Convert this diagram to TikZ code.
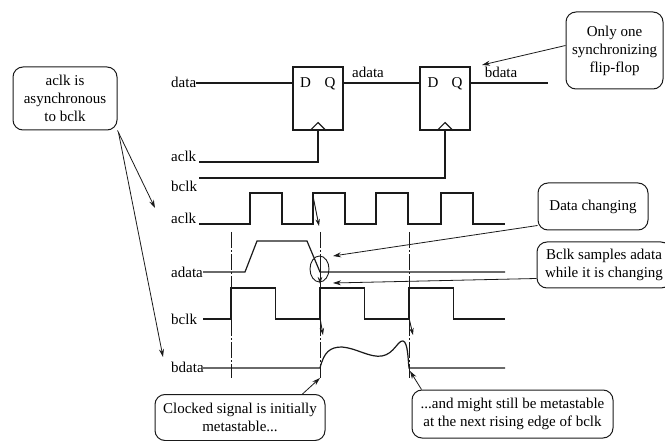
\documentclass[tikz,border=0pt]{standalone}
\usepackage{fontspec}
\setmainfont{Liberation Serif}
\usepackage{tikz}
\usetikzlibrary{arrows.meta}
\definecolor{wire}{HTML}{1A1A1A}

\begin{document}
\begin{tikzpicture}[x=1pt, y=-1pt, font=\fontsize{15}{18}\selectfont]
            \tikzstyle{sig} = [anchor=west, inner sep=0pt, text height=10pt, text depth=0pt];
            \tikzstyle{pin} = [inner sep=0pt, text height=10pt, text depth=0pt];
            \tikzstyle{ff} = [draw=wire, line width=1.2pt, minimum width=50pt, minimum height=63pt, inner sep=0pt];
            \tikzstyle{callout} = [draw=wire, line width=1pt, rounded corners=10pt, align=center, inner sep=0pt];
            \tikzstyle{wave} = [wire, line width=1.2pt];
            \tikzstyle{edge} = [wire, line width=1pt, dash pattern=on 16pt off 2pt on 2pt off 2pt];
            \tikzstyle{note} = [wire, line width=0.8pt, -{Stealth[length=8pt, width=5pt]}];
            \tikzstyle{cause} = [wire, line width=0.9pt, -{Stealth[length=7pt, width=4.5pt]}];
            \useasboundingbox (0,0) rectangle (665,441);
            \foreach \n/\l/\y in {dlbl/data/83, albl/aclk/157, blbl/bclk/187,
                awlbl/aclk/219, adlbl/adata/272, bwlbl/bclk/319, bdlbl/bdata/367}
            {\node[sig] (\n) at (171,\y) {\l};}
            \node[ff] (ff1) at (318,98.5) {};
            \node[ff] (ff2) at (445,98.5) {};
            \node[pin] (d1) at (305.5,83) {D};
            \node[pin] (q1) at (330,83) {Q};
            \node[pin] (d2) at (433,83) {D};
            \node[pin] (q2) at (457,83) {Q};
            \node[pin] (adtxt) at (368,73) {adata};
            \node[pin] (bdtxt) at (501,73) {bdata};
            \coordinate (ain) at (199,162);
            \coordinate (bin) at (199,178);
            \coordinate (bdout) at (548,83);
            \foreach \f in {ff1, ff2}
            {\draw[wave] ([xshift=-8pt]\f.south) -- ([yshift=8pt]\f.south) -- ([xshift=8pt]\f.south);}
            \draw[wave] (dlbl.east) -- (dlbl.east -| ff1.west);
            \draw[wave] (ff1.east |- q1) -- (ff2.west |- d2);
            \draw[wave] (ff2.east |- q2) -- (bdout);
            \draw[wave] (ain) -| (ff1.south);
            \draw[wave] (bin) -| (ff2.south);
            \draw[wave] (199,224) foreach \r in {250,313,376,441} { -- (\r,224) -- (\r,193) -- (\r+32,193) -- (\r+32,224) } -- (505,224);
            \draw[wave] (203,272) -- (245,272) -- (257,241) -- (307,241) -- (320,272) -- (505,272);
            \draw[wave] (203,319) foreach \r in {231,320,409} { -- (\r,319) -- (\r,288) -- (\r+44.5,288) -- (\r+44.5,319) } -- (505,319);
            \draw[wave] (203,368) -- (320,368) .. controls (324,352) and (330,347) .. (342,347)
                .. controls (356,348) and (370,358) .. (382,356) .. controls (394,354) and (398,340) .. (403,341)
                .. controls (408,342) and (408,360) .. (409,368) -- (505,368);
            \foreach \x in {231, 320, 409}
            {\draw[edge] (\x,232) -- (\x,378);}
            \draw[wire, line width=0.9pt] (319.5,269) ellipse [x radius=9.5, y radius=13];
            \draw[cause] (313,196) -- (319,226);
            \draw[cause] (320,270) -- (320,284);
            \draw[cause] (320,318) -- (323,335);
            \draw[cause] (409,318) -- (413,335);
            \node[callout, minimum width=104pt, minimum height=63pt] (casync) at (65,98.5) {aclk is\\asynchronous\\to bclk};
            \node[callout, minimum width=97pt, minimum height=77pt] (conly) at (614.5,50.5) {Only one\\synchronizing\\flip-flop};
            \node[callout, minimum width=110pt, minimum height=47pt] (cchg) at (593,206.5) {Data changing};
            \node[callout, minimum width=134pt, minimum height=46pt] (csamp) at (604,265) {Bclk samples adata\\while it is changing};
            \node[callout, minimum width=170pt, minimum height=46pt] (cinit) at (240,417.5) {Clocked signal is initially\\metastable...};
            \node[callout, minimum width=201pt, minimum height=48pt] (cnext) at (512.5,414) {...and might still be metastable\\at the next rising edge of bclk};
            \coordinate (tipaclk) at (155,208);
            \coordinate (tipbdata) at (163,357);
            \coordinate (tiponly) at (482,65);
            \coordinate (tipchg) at (333,256);
            \coordinate (tipsamp) at (333,283);
            \coordinate (tipinit) at (320,378);
            \coordinate (tipnext) at (410,371);
            \draw[note] (casync.south east) -- (tipaclk);
            \draw[note] ([xshift=1pt,yshift=-2pt]casync.south east) -- (tipbdata);
            \draw[note] ([yshift=5pt]conly.west) -- (tiponly);
            \draw[note] ([yshift=5pt]cchg.south west) -- (tipchg);
            \draw[note] ([yshift=10pt]csamp.south west) -- (tipsamp);
            \draw[note] ([xshift=-23pt]cinit.north east) -- (tipinit);
            \draw[note] ([xshift=10pt]cnext.north west) -- (tipnext);
        \end{tikzpicture}
\end{document}
